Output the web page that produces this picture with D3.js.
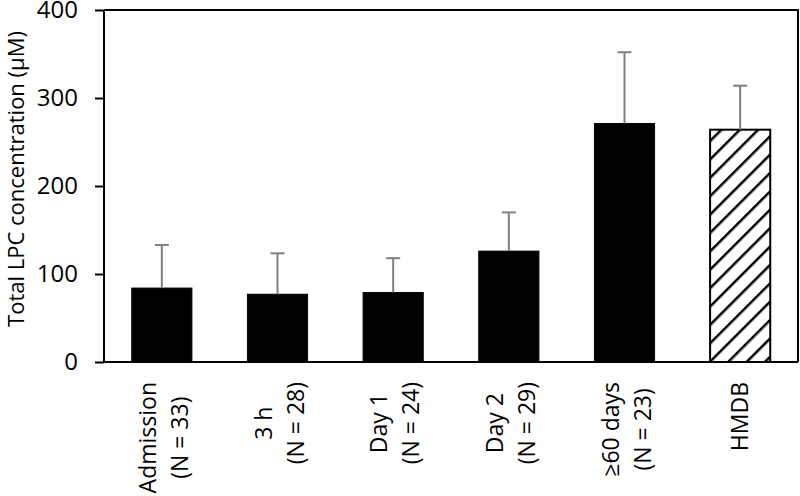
<!DOCTYPE html>
<html>
<head>
<meta charset="utf-8">
<script src="https://cdn.jsdelivr.net/npm/d3@7"></script>
<style>
  body { margin: 0; background: white; }
  svg { display: block; font-family: "Open Sans", sans-serif; }
</style>
</head>
<body>
<svg width="800" height="496"></svg>
<script>
// values
var labels = [
  ["Admission", "(N = 33)"],
  ["3 h", "(N = 28)"],
  ["Day 1", "(N = 24)"],
  ["Day 2", "(N = 29)"],
  ["\u226560 days", "(N = 23)"],
  ["HMDB"]
];
var means = [84, 77, 79, 126, 271, 264];
var errUp = [133, 123.5, 118, 170, 352, 314];
var hatched = [false, false, false, false, false, true];
var yTicks = [0, 100, 200, 300, 400];

var margin = {top: 10, right: 2, bottom: 134, left: 104},
    width = 800 - margin.left - margin.right,
    height = 496 - margin.top - margin.bottom;

var svg = d3.select("svg");

var defs = svg.append("defs");
defs.append("pattern")
    .attr("id", "hatch")
    .attr("patternUnits", "userSpaceOnUse")
    .attr("width", 13).attr("height", 13)
    .attr("patternTransform", "rotate(45)")
  .append("line")
    .attr("x1", 0).attr("y1", 0)
    .attr("x2", 0).attr("y2", 13)
    .attr("stroke", "black")
    .attr("stroke-width", 5);

var g = svg.append("g")
    .attr("transform", "translate(" + margin.left + "," + margin.top + ")");

var x = d3.scaleBand()
    .domain(d3.range(labels.length))
    .range([0, width])
    .paddingInner(0.48)
    .paddingOuter(0.24);

var y = d3.scaleLinear()
    .domain([0, 400])
    .range([height, 0]);

// frame top + right
g.append("path")
    .attr("d", "M0,0H" + width + "V" + height)
    .attr("fill", "none")
    .attr("stroke", "black")
    .attr("stroke-width", 2);

// bars
g.selectAll(".bar")
    .data(means).enter()
    .append("rect")
    .attr("class", "bar")
    .attr("x", function(d, i) { return x(i); })
    .attr("y", function(d) { return y(d); })
    .attr("width", x.bandwidth())
    .attr("height", function(d) { return height - y(d); })
    .attr("fill", function(d, i) { return hatched[i] ? "url(#hatch)" : "black"; })
    .attr("stroke", "black")
    .attr("stroke-width", function(d, i) { return hatched[i] ? 2 : 1; });

// upper error bars
var eb = g.selectAll(".err")
    .data(means).enter()
    .append("g")
    .attr("class", "err")
    .attr("stroke", "#7f7f7f")
    .attr("stroke-width", 2);
eb.append("line")
    .attr("x1", function(d, i) { return x(i) + x.bandwidth() / 2; })
    .attr("x2", function(d, i) { return x(i) + x.bandwidth() / 2; })
    .attr("y1", function(d) { return y(d); })
    .attr("y2", function(d, i) { return y(errUp[i]); });
eb.append("line")
    .attr("x1", function(d, i) { return x(i) + x.bandwidth() / 2 - 7; })
    .attr("x2", function(d, i) { return x(i) + x.bandwidth() / 2 + 7; })
    .attr("y1", function(d, i) { return y(errUp[i]); })
    .attr("y2", function(d, i) { return y(errUp[i]); });

// y axis
var leftAxis = d3.axisLeft(y).tickValues(yTicks).tickSize(9).tickPadding(17);
var ya = g.append("g").call(leftAxis);
ya.select(".domain").attr("d", "M0,0V" + height).attr("stroke-width", 2);
ya.selectAll(".tick line").attr("stroke-width", 2);
ya.selectAll("text").attr("font-size", 24).attr("font-family", "'Open Sans', sans-serif").attr("fill", "black");

// x axis line
g.append("line")
    .attr("x1", 0).attr("x2", width)
    .attr("y1", height).attr("y2", height)
    .attr("stroke", "black")
    .attr("stroke-width", 2);

// rotated category labels
var lab = g.selectAll(".xlab")
    .data(labels).enter()
    .append("g")
    .attr("class", "xlab");
lab.each(function(lines, i) {
  var cx = x(i) + x.bandwidth() / 2;
  var grp = d3.select(this);
  var texts = [];
  lines.forEach(function(t, k) {
    var off = lines.length === 1 ? 8 : (k === 0 ? -6 : 26);
    texts.push(grp.append("text")
      .attr("font-size", 23)
      .attr("fill", "black")
      .attr("text-anchor", "middle")
      .text(t)
      .datum(cx + off));
  });
  var maxLen = d3.max(texts, function(t) { return t.node().getComputedTextLength(); });
  var cy = height + 20 + maxLen / 2;
  texts.forEach(function(t) {
    t.attr("transform", "translate(" + t.datum() + "," + cy + ") rotate(-90)");
  });
});

// y title
svg.append("text")
    .attr("transform", "translate(24,179) rotate(-90)")
    .attr("text-anchor", "middle")
    .attr("font-size", 22)
    .attr("fill", "black")
    .text("Total LPC concentration (\u03bcM)");
</script>
</body>
</html>
